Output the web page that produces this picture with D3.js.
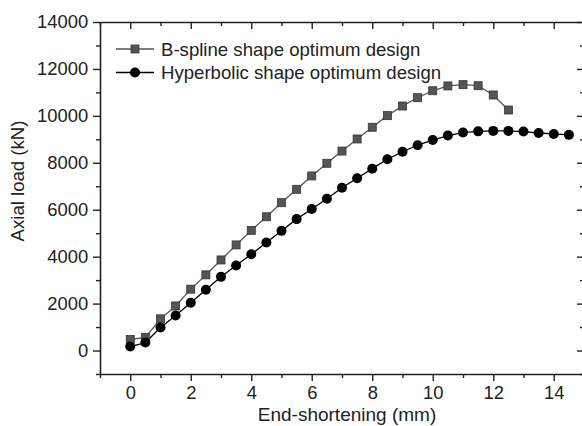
<!DOCTYPE html>
<html>
<head>
<meta charset="utf-8">
<script src="https://cdn.jsdelivr.net/npm/d3@7"></script>
<style>
  body { margin: 0; background: #fff; }
  svg { display: block; }
  .axis path, .axis line { stroke: #222; }
  .axis text { font-family: "Liberation Sans", Arial, sans-serif; font-size: 18.4px; fill: #222; }
</style>
</head>
<body>
<div id="chart"></div>
<script>
// Data
var bsplineX = [0, 0.5, 1, 1.5, 2, 2.5, 3, 3.5, 4, 4.5, 5, 5.5, 6, 6.5, 7, 7.5, 8, 8.5, 9, 9.5, 10, 10.5, 11, 11.5, 12, 12.5];
var bsplineY = [470, 560, 1350, 1900, 2615, 3225, 3860, 4500, 5120, 5700, 6300, 6870, 7440, 7980, 8500, 9015, 9515, 10010, 10420, 10775, 11070, 11275, 11330, 11285, 10890, 10250];
var hyperX = [0, 0.5, 1, 1.5, 2, 2.5, 3, 3.5, 4, 4.5, 5, 5.5, 6, 6.5, 7, 7.5, 8, 8.5, 9, 9.5, 10, 10.5, 11, 11.5, 12, 12.5, 13, 13.5, 14, 14.5];
var hyperY = [170, 340, 980, 1490, 2040, 2590, 3140, 3620, 4100, 4600, 5100, 5600, 6030, 6470, 6940, 7340, 7750, 8150, 8470, 8750, 8970, 9160, 9290, 9340, 9360, 9360, 9330, 9270, 9230, 9190];
var seriesNames = ["B-spline shape optimum design", "Hyperbolic shape optimum design"];
var xMajor = [0, 2, 4, 6, 8, 10, 12, 14];
var xMinor = [-1, 1, 3, 5, 7, 9, 11, 13, 15];
var yMajor = [0, 2000, 4000, 6000, 8000, 10000, 12000, 14000];
var yMinor = [-1000, 1000, 3000, 5000, 7000, 9000, 11000, 13000];

var W = 582, H = 426;
var margin = {top: 22, right: -2, bottom: 52, left: 100};
var width = W - margin.left - margin.right,
    height = H - margin.top - margin.bottom;

var svg = d3.select("#chart").append("svg")
    .attr("width", W)
    .attr("height", H)
  .append("g")
    .attr("transform", "translate(" + margin.left + "," + margin.top + ")");

var x = d3.scaleLinear().domain([-1, 15]).range([0, width]);
var y = d3.scaleLinear().domain([-1000, 14000]).range([height, 0]);

// Axes: bottom / left with labels, top / right inward ticks only
function drawAxis(axisFn, major, minor, transform, labels) {
    var g = svg.append("g").attr("class", "axis").attr("transform", transform);
    g.call(axisFn.tickValues(major).tickSize(7).tickSizeOuter(0)
        .tickFormat(labels ? d3.format("d") : ""));
    var m = svg.append("g").attr("class", "axis").attr("transform", transform);
    m.call(axisFn.tickValues(minor).tickSize(4).tickFormat(""));
    m.select(".domain").remove();
    g.select(".domain").attr("stroke-width", 1.6);
    g.selectAll(".tick line").attr("stroke-width", 1.4);
    m.selectAll(".tick line").attr("stroke-width", 1.4);
    return g;
}

var gx = drawAxis(d3.axisBottom(x), xMajor, xMinor, "translate(0," + height + ")", true);
gx.selectAll(".tick text").attr("dy", "0.8em");
var gy = drawAxis(d3.axisLeft(y), yMajor, yMinor, null, true);
gy.selectAll(".tick text").attr("dx", "-0.1em");
drawAxis(d3.axisBottom(x), xMajor, xMinor, null, false);
drawAxis(d3.axisLeft(y), yMajor, yMinor, "translate(" + width + ",0)", false);

// Axis titles
svg.append("text")
    .attr("x", x(7) + 5)
    .attr("y", height + 47)
    .attr("text-anchor", "middle")
    .style("font-family", "'Liberation Sans', Arial, sans-serif")
    .style("font-size", "19px")
    .style("fill", "#222")
    .text("End-shortening (mm)");

svg.append("text")
    .attr("transform", "rotate(-90)")
    .attr("x", -159)
    .attr("y", -76)
    .attr("text-anchor", "middle")
    .style("font-family", "'Liberation Sans', Arial, sans-serif")
    .style("font-size", "18.6px")
    .style("fill", "#222")
    .text("Axial load (kN)");

// Series
var bspline = bsplineX.map(function(d, i) { return [d, bsplineY[i]]; });
var hyper = hyperX.map(function(d, i) { return [d, hyperY[i]]; });
var line = d3.line().x(function(d) { return x(d[0]); }).y(function(d) { return y(d[1]); });

svg.append("path").datum(bspline)
    .attr("fill", "none").attr("stroke", "#555").attr("stroke-width", 1.3)
    .attr("d", line);
svg.append("path").datum(hyper)
    .attr("fill", "none").attr("stroke", "#000").attr("stroke-width", 1.3)
    .attr("d", line);

var sq = 8;
svg.selectAll(".sq").data(bspline).enter().append("rect")
    .attr("class", "sq")
    .attr("x", function(d) { return x(d[0]) - sq / 2; })
    .attr("y", function(d) { return y(d[1]) - sq / 2; })
    .attr("width", sq).attr("height", sq)
    .attr("fill", "#555").attr("stroke", "#333").attr("stroke-width", 0.8);

svg.selectAll(".dot").data(hyper).enter().append("circle")
    .attr("class", "dot")
    .attr("cx", function(d) { return x(d[0]); })
    .attr("cy", function(d) { return y(d[1]); })
    .attr("r", 5)
    .attr("fill", "#000");

// Legend
var legend = svg.append("g").attr("transform", "translate(16,27)");
seriesNames.forEach(function(name, i) {
    var row = legend.append("g").attr("transform", "translate(0," + (i * 23.5) + ")");
    row.append("line").attr("x1", 0).attr("x2", 38).attr("y1", 0).attr("y2", 0)
        .attr("stroke", i === 0 ? "#555" : "#000").attr("stroke-width", 1.3);
    if (i === 0) {
        row.append("rect").attr("x", 19 - sq / 2).attr("y", -sq / 2)
            .attr("width", sq).attr("height", sq)
            .attr("fill", "#555").attr("stroke", "#333").attr("stroke-width", 0.8);
    } else {
        row.append("circle").attr("cx", 19).attr("cy", 0).attr("r", 5).attr("fill", "#000");
    }
    row.append("text").attr("x", 45).attr("y", 0).attr("dy", "0.35em")
        .style("font-family", "'Liberation Sans', Arial, sans-serif")
        .style("font-size", "18.6px")
        .style("fill", "#222")
        .text(name);
});
</script>
</body>
</html>
